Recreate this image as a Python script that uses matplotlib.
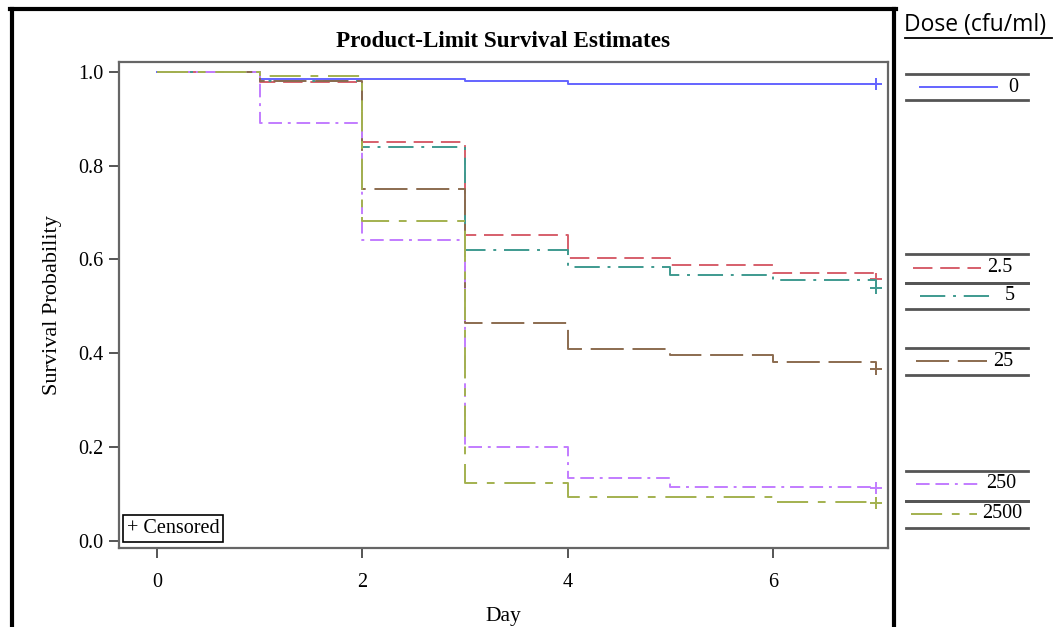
import matplotlib
matplotlib.use("Agg")
import matplotlib.pyplot as plt
from matplotlib.lines import Line2D

# ============================================================
# DATA: Kaplan-Meier (product-limit) estimates per dose
# ============================================================
days = [0, 1, 2, 3, 4, 5, 6, 7]
doses = ["0", "2.5", "5", "25", "250", "2500"]
surv_0 = [1.0, 0.985, 0.985, 0.980, 0.975, 0.975, 0.975, 0.974]
surv_2_5 = [1.0, 0.978, 0.850, 0.652, 0.604, 0.589, 0.572, 0.558]
surv_5 = [1.0, 0.980, 0.840, 0.620, 0.585, 0.566, 0.556, 0.539]
surv_25 = [1.0, 0.981, 0.750, 0.465, 0.409, 0.397, 0.381, 0.367]
surv_250 = [1.0, 0.892, 0.642, 0.201, 0.135, 0.114, 0.114, 0.112]
surv_2500 = [1.0, 0.991, 0.682, 0.123, 0.094, 0.094, 0.082, 0.080]
all_surv = [surv_0, surv_2_5, surv_5, surv_25, surv_250, surv_2500]

colors = ['#6464ff', '#d65f6b', '#3e9a8f', '#8b6b4f', '#c27cff', '#a3b14f']
styles = ['-', (0, (10, 4)), (0, (13, 4, 1.5, 4)), (0, (17, 4.5)),
          (0, (7, 3, 7, 3, 1.5, 3)), (0, (16, 5, 4, 5))]

# legend rows (pixel y of centre, top rule, bottom rule, sample start/end, label right edge)
leg_y = [87, 268, 296, 361, 484, 514]
leg_top = [74, 254, 283, 348, 471, 501]
leg_bot = [100, 283, 309, 375, 501, 528]
leg_x0 = [920, 913, 920, 916, 916, 911]
leg_x1 = [997, 981, 994, 987, 982, 977]
leg_tx = [1018, 1012, 1015, 1013, 1016, 1022]

W, H = 1057, 627
fig = plt.figure(figsize=(W / 100, H / 100), dpi=100)
serif = ['Liberation Serif', 'DejaVu Serif']

ax = fig.add_axes([119 / W, 1 - 548 / H, (888 - 119) / W, (548 - 62) / H])

for s, c, ls in zip(all_surv, colors, styles):
    ax.step(days, s, where='post', color=c, lw=1.4, linestyle=ls)
    ax.plot(days[-1], s[-1], marker='+', color=c, ms=9, mew=1.4)

ax.set_xlim(-0.37, 7.12)
ax.set_ylim(-0.015, 1.021)
ax.set_xticks([0, 2, 4, 6])
ax.set_yticks([0.0, 0.2, 0.4, 0.6, 0.8, 1.0])
ax.set_yticklabels([f"{v:.1f}" for v in [0.0, 0.2, 0.4, 0.6, 0.8, 1.0]])
for sp in ax.spines.values():
    sp.set_color('#666666')
    sp.set_linewidth(1.6)
ax.tick_params(color='#555555', length=7, width=1.4, labelsize=14.5, pad=4)
for lbl in ax.get_xticklabels() + ax.get_yticklabels():
    lbl.set_family(serif)
ax.tick_params(axis='x', pad=11)

ax.set_xlabel("Day", family=serif, fontsize=15.5, labelpad=11)
ax.set_ylabel("Survival Probability", family=serif, fontsize=16, labelpad=12)
ax.set_title("Product-Limit Survival Estimates", family=serif, fontsize=16.7,
             fontweight='bold', pad=11)

ax.text(0.010, 0.020, "+ Censored", transform=ax.transAxes, family=serif,
        fontsize=14.5, ha='left', va='bottom',
        bbox=dict(boxstyle='square,pad=0.2', facecolor='white',
                  edgecolor='black', lw=1.2))

# outer black frame (left, top, right)
def fx(px): return px / W
def fy(py): return 1 - py / H

fig.add_artist(Line2D([fx(11.5), fx(11.5)], [0, fy(9)], color='black', lw=3))
fig.add_artist(Line2D([fx(10), fx(895.5)], [fy(9), fy(9)], color='black', lw=3))
fig.add_artist(Line2D([fx(894), fx(894)], [0, fy(9)], color='black', lw=3))

# right-hand dose legend
fig.text(fx(904), fy(25), "Dose (cfu/ml)", family=['Open Sans', 'DejaVu Sans'],
         fontsize=16.5, ha='left', va='center')
fig.add_artist(Line2D([fx(905), fx(1052)], [fy(38), fy(38)], color='black', lw=1.3))

for d, c, ls, yc, yt, yb, x0, x1, tx in zip(doses, colors, styles, leg_y, leg_top,
                                            leg_bot, leg_x0, leg_x1, leg_tx):
    fig.add_artist(Line2D([fx(906), fx(1028)], [fy(yt), fy(yt)], color='#555555', lw=2))
    fig.add_artist(Line2D([fx(906), fx(1028)], [fy(yb), fy(yb)], color='#555555', lw=2))
    fig.add_artist(Line2D([fx(x0), fx(x1)], [fy(yc), fy(yc)], color=c, lw=1.4,
                          linestyle=ls))
    fig.text(fx(tx), fy(yc), d, family=serif, fontsize=14.5, ha='right', va='center')

fig.savefig("out.png", dpi=100)
